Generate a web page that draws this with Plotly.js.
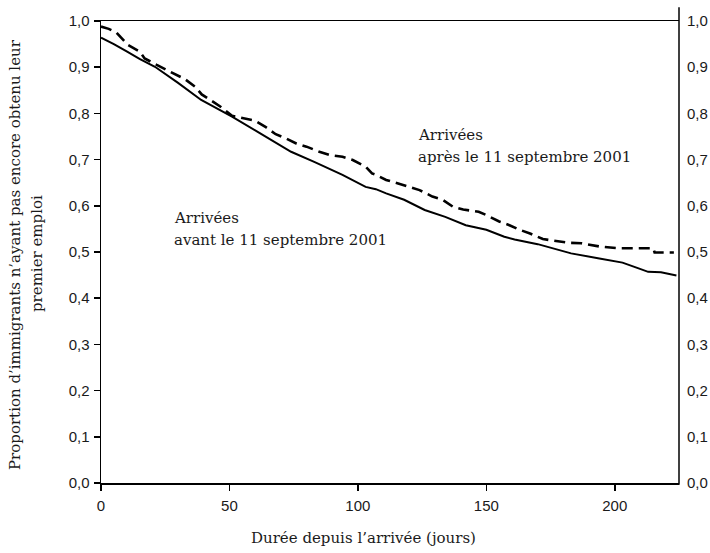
<!DOCTYPE html>
<html>
<head>
<meta charset="utf-8">
<script src="https://cdn.plot.ly/plotly-3.0.1.min.js"></script>
<style>html,body{margin:0;padding:0;background:#fff}#chart{width:710px;height:553px}</style>
</head>
<body>
<div id="chart"></div>
<script>
// Arrivées avant le 11 septembre 2001 (solid)
const daysBefore = [0, 5, 10, 15, 21, 30, 39, 51, 61, 74, 83, 94, 103, 107, 111, 118, 126, 134, 142, 150, 157, 161, 170, 183, 194, 203, 209, 213, 218, 224];
const survBefore = [0.964, 0.950, 0.934, 0.918, 0.901, 0.866, 0.829, 0.793, 0.760, 0.717, 0.695, 0.667, 0.641, 0.636, 0.627, 0.613, 0.591, 0.576, 0.558, 0.548, 0.533, 0.527, 0.517, 0.497, 0.486, 0.477, 0.465, 0.457, 0.456, 0.449];
// Arrivées après le 11 septembre 2001 (dashed)
const daysAfter = [0, 3, 6, 8.7, 10.5, 15, 17, 21.7, 25, 30, 32.7, 36.6, 39.2, 43.7, 46.4, 51, 56, 60, 64, 68, 72, 76, 80, 85, 89, 94, 98, 103, 105.5, 107, 111, 115, 120, 124, 129, 133, 137, 141, 147, 150, 155, 159, 163, 167, 172, 177, 182, 187, 194, 202, 215, 215.5, 223];
const survAfter = [0.988, 0.983, 0.975, 0.959, 0.948, 0.934, 0.919, 0.905, 0.896, 0.882, 0.874, 0.858, 0.841, 0.825, 0.815, 0.795, 0.788, 0.784, 0.771, 0.755, 0.746, 0.735, 0.728, 0.717, 0.710, 0.706, 0.699, 0.685, 0.670, 0.667, 0.656, 0.649, 0.641, 0.634, 0.620, 0.613, 0.598, 0.592, 0.587, 0.580, 0.566, 0.558, 0.548, 0.540, 0.528, 0.524, 0.520, 0.519, 0.512, 0.508, 0.508, 0.499, 0.499];
const xTicks = [0, 50, 100, 150, 200];
const yTicks = [0, 0.1, 0.2, 0.3, 0.4, 0.5, 0.6, 0.7, 0.8, 0.9, 1.0];
const yTickText = ['0,0','0,1','0,2','0,3','0,4','0,5','0,6','0,7','0,8','0,9','1,0'];
const labelBefore = ['Arrivées', 'avant le 11 septembre 2001'];
const labelAfter = ['Arrivées', 'après le 11 septembre 2001'];
const yTitle = ['Proportion d’immigrants n’ayant pas encore obtenu leur', 'premier emploi'];
const xTitle = 'Durée depuis l’arrivée (jours)';

const serif = {family: 'DejaVu Serif', size: 15, color: '#1a1a1a'};
const sans = {family: 'Liberation Sans, Arial', size: 15, color: '#1a1a1a'};

const traces = [
  {x: daysBefore, y: survBefore, type: 'scatter', mode: 'lines', line: {color: '#000', width: 2}, hoverinfo: 'skip'},
  {x: daysAfter, y: survAfter, type: 'scatter', mode: 'lines', line: {color: '#000', width: 2.6, dash: '11px,6px'}, hoverinfo: 'skip'},
  {x: daysAfter, y: survAfter, yaxis: 'y2', type: 'scatter', mode: 'lines', opacity: 0, showlegend: false, hoverinfo: 'skip'}
];

function ann(text, x, y, xanchor, extra) {
  return Object.assign({text: text, xref: 'paper', yref: 'paper', x: x, y: y, xanchor: xanchor, yanchor: 'middle', showarrow: false, font: serif}, extra || {});
}

const layout = {
  width: 710, height: 553,
  margin: {l: 101, r: 31, t: 21, b: 70},
  paper_bgcolor: '#fff', plot_bgcolor: '#fff',
  showlegend: false,
  hovermode: false,
  xaxis: {range: [0, 225], tickvals: xTicks, ticktext: xTicks.map(String), showgrid: false, zeroline: false,
    showline: true, mirror: true, linecolor: '#000', linewidth: 1.5, ticks: 'outside', ticklen: 6, tickcolor: '#000', tickwidth: 1.5,
    ticklabelstandoff: 2, tickfont: sans, fixedrange: true},
  yaxis: {range: [0, 1], tickvals: yTicks, ticktext: yTickText, showgrid: false, zeroline: false,
    showline: true, linecolor: '#000', linewidth: 1.5, ticks: 'outside', ticklen: 6, tickcolor: '#000', tickwidth: 1.5,
    ticklabelstandoff: 1, tickfont: sans, fixedrange: true},
  yaxis2: {range: [0, 1], overlaying: 'y', side: 'right', anchor: 'x', tickvals: yTicks, ticktext: yTickText,
    showgrid: false, zeroline: false, showline: false, ticks: '', ticklabelstandoff: 7, tickfont: sans, fixedrange: true},
  shapes: [
    {type: 'line', xref: 'paper', yref: 'paper', x0: 1, x1: 1, y0: -0.004, y1: 1.03, line: {color: '#000', width: 1.5}}
  ],
  annotations: [
    ann(labelBefore[0], 0.1228, 0.5736, 'left'),
    ann(labelBefore[1], 0.1228, 0.526, 'left'),
    ann(labelAfter[0], 0.545, 0.753, 'left'),
    ann(labelAfter[1], 0.545, 0.7056, 'left'),
    ann(xTitle, 0.4533, -0.119, 'center'),
    ann(yTitle[0], -0.1488, 0.4957, 'center', {textangle: -90}),
    ann(yTitle[1], -0.1107, 0.4957, 'center', {textangle: -90})
  ]
};

Plotly.newPlot('chart', traces, layout, {displayModeBar: false, staticPlot: true});
</script>
</body>
</html>
